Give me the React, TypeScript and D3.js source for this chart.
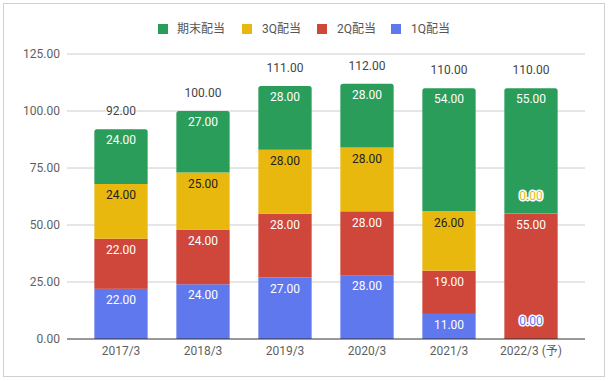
import React from "react";
import * as d3 from "d3";

const categories = ["2017/3", "2018/3", "2019/3", "2020/3", "2021/3", "2022/3 (予)"];
const q1 = [22, 24, 27, 28, 11, 0];
const q2 = [22, 24, 28, 28, 19, 55];
const q3 = [24, 25, 28, 28, 26, 0];
const qEnd = [24, 27, 28, 28, 54, 55];
const yTicks = [0, 25, 50, 75, 100, 125];
const seriesNames = ["期末配当", "3Q配当", "2Q配当", "1Q配当"];

const W = 612, H = 381;
const FONT = "Roboto, 'Noto Sans CJK JP', sans-serif";

const colors: Record<string, string> = {
  q1: "#6078ee",
  q2: "#cf463a",
  q3: "#e9b80e",
  qEnd: "#2a9d5a",
};
const labelColors: Record<string, string> = {
  q1: "#ffffff",
  q2: "#ffffff",
  q3: "#222222",
  qEnd: "#ffffff",
};

export default function App() {
  const x = d3.scaleBand<string>().domain(categories).range([80, 572]).paddingInner(0.35).paddingOuter(0.175);
  const y = d3.scaleLinear().domain([0, 125]).range([339, 54]);
  const keys = ["q1", "q2", "q3", "qEnd"];
  const data = categories.map((c, i) => ({ c, q1: q1[i], q2: q2[i], q3: q3[i], qEnd: qEnd[i] }));
  const stack = d3.stack<any>().keys(keys)(data);
  const bw = x.bandwidth();

  const legendItems = [
    { name: seriesNames[0], key: "qEnd", sx: 158, tx: 177 },
    { name: seriesNames[1], key: "q3", sx: 242, tx: 262 },
    { name: seriesNames[2], key: "q2", sx: 317, tx: 337 },
    { name: seriesNames[3], key: "q1", sx: 391, tx: 411 },
  ];

  const topPath = (x0: number, y0: number, w: number, y1: number, r: number) => {
    return `M${x0},${y1}V${y0 + r}Q${x0},${y0} ${x0 + r},${y0}H${x0 + w - r}Q${x0 + w},${y0} ${x0 + w},${y0 + r}V${y1}Z`;
  };

  return (
    <svg width={W} height={H} style={{ position: "absolute", left: 0, top: 0 }} fontFamily={FONT}>
      <rect x={0} y={0} width={W} height={H} fill="#fff" />
      <rect x={3.5} y={3.5} width={601} height={373} fill="none" stroke="#d0d0d0" />
      {legendItems.map((l) => (
        <g key={l.key}>
          <rect x={l.sx} y={24} width={10} height={10} fill={colors[l.key]} />
          <text x={l.tx} y={29} dy="0.35em" fontSize={12} fill="#555">{l.name}</text>
        </g>
      ))}
      {yTicks.map((t) => (
        <g key={t}>
          {t !== 0 && <line x1={67} x2={585} y1={y(t)} y2={y(t)} stroke="#cccccc" />}
          <text x={60} y={y(t)} dy="0.35em" textAnchor="end" fontSize={12} fill="#5f5f5f">{t.toFixed(2)}</text>
        </g>
      ))}
      {stack.map((s) => s.map((d, i) => {
        const x0 = x(categories[i])!;
        const top = y(d[1]);
        const bot = y(d[0]);
        const h = bot - top;
        const isTop = s.key === "qEnd";
        if (h <= 0) return null;
        return isTop ? (
          <path key={s.key + i} d={topPath(x0, top, bw, bot, 2.5)} fill={colors[s.key]} />
        ) : (
          <rect key={s.key + i} x={x0} y={top} width={bw} height={h} fill={colors[s.key]} />
        );
      }))}
      {stack.map((s) => s.map((d, i) => {
        const cx = x(categories[i])! + bw / 2;
        const v = d[1] - d[0];
        const top = y(d[1]);
        if (v === 0) {
          return (
            <text key={"l" + s.key + i} x={cx} y={top - 18} dy="0.35em" textAnchor="middle" fontSize={12}
              fill={colors[s.key]} stroke="#fff" strokeWidth={3} paintOrder="stroke" strokeLinejoin="round">
              {v.toFixed(2)}
            </text>
          );
        }
        return (
          <text key={"l" + s.key + i} x={cx} y={top + 11} dy="0.35em" textAnchor="middle" fontSize={12}
            fill={labelColors[s.key]}>
            {v.toFixed(2)}
          </text>
        );
      }))}
      {data.map((d, i) => {
        const total = d.q1 + d.q2 + d.q3 + d.qEnd;
        return (
          <text key={"t" + i} x={x(d.c)! + bw / 2} y={y(total) - 18} dy="0.35em" textAnchor="middle" fontSize={12}
            fill="#444" stroke="#fff" strokeWidth={2} paintOrder="stroke">
            {total.toFixed(2)}
          </text>
        );
      })}
      <line x1={67} x2={585} y1={339} y2={339} stroke="#333" />
      {categories.map((c) => (
        <text key={c} x={x(c)! + bw / 2} y={351} dy="0.35em" textAnchor="middle" fontSize={12} fill="#5f5f5f">{c}</text>
      ))}
    </svg>
  );
}
